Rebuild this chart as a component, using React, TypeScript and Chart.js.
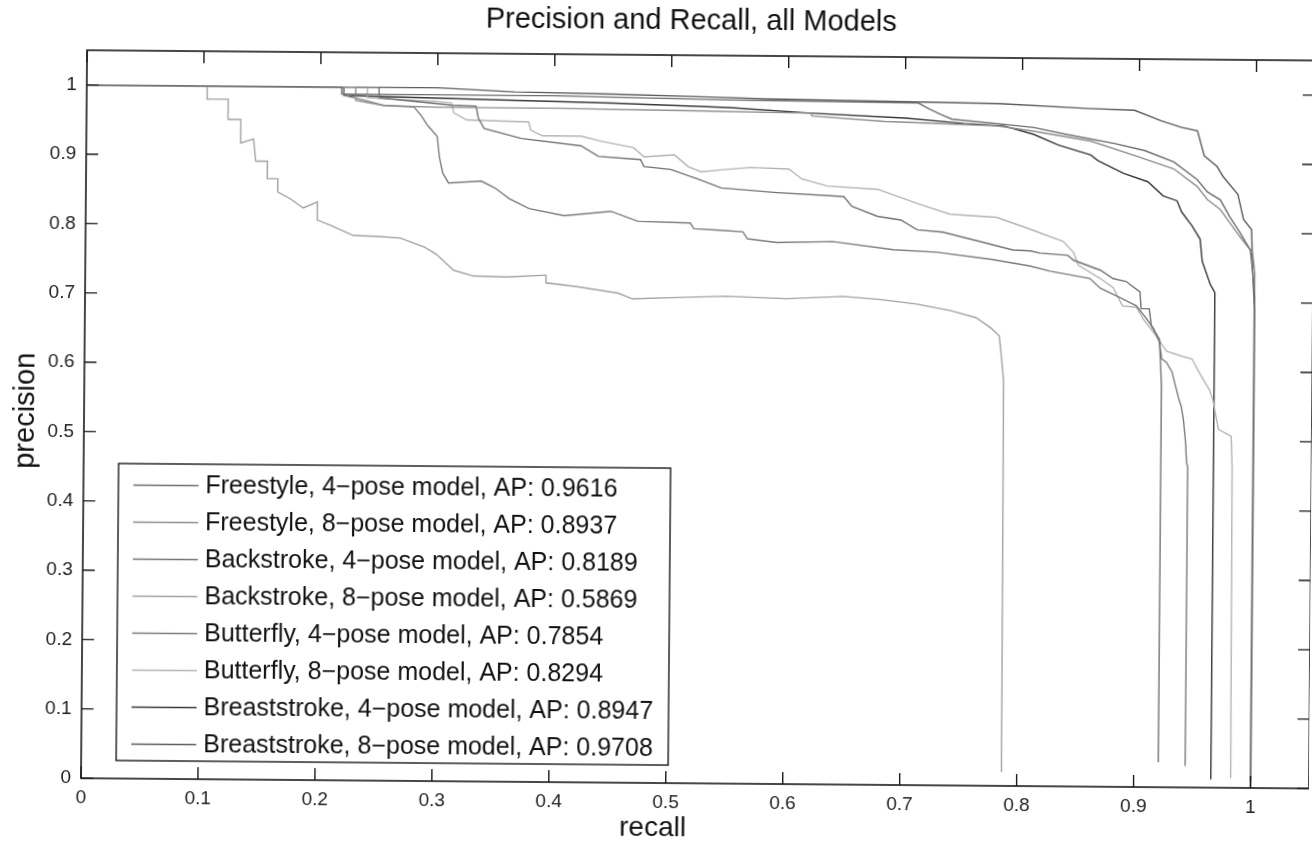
import React, { useEffect, useRef } from "react";
import { Chart, registerables } from "chart.js";

Chart.register(...registerables);

// ---------- text ----------
const TITLE = "Precision and Recall, all Models";
const X_LABEL = "recall";
const Y_LABEL = "precision";
const TICK_VALUES = [0, 0.1, 0.2, 0.3, 0.4, 0.5, 0.6, 0.7, 0.8, 0.9, 1];
const TICK_LABELS = ["0", "0.1", "0.2", "0.3", "0.4", "0.5", "0.6", "0.7", "0.8", "0.9", "1"];

const SERIES_LABELS = [
  "Freestyle, 4\u2212pose model, AP: 0.9616",
  "Freestyle, 8\u2212pose model, AP: 0.8937",
  "Backstroke, 4\u2212pose model, AP: 0.8189",
  "Backstroke, 8\u2212pose model, AP: 0.5869",
  "Butterfly, 4\u2212pose model, AP: 0.7854",
  "Butterfly, 8\u2212pose model, AP: 0.8294",
  "Breaststroke, 4\u2212pose model, AP: 0.8947",
  "Breaststroke, 8\u2212pose model, AP: 0.9708",
];
const SERIES_COLORS = ["#6e6e6e", "#8e8e8e", "#737373", "#a2a2a2", "#7c7c7c", "#b4b4b4", "#383838", "#5c5c5c"];

// ---------- data (recall, precision) ----------
const fs4Recall = [0, 0.218, 0.218, 0.4, 0.55, 0.711, 0.72, 0.73, 0.74, 0.78, 0.81, 0.839, 0.879, 0.905, 0.93, 0.95, 0.959, 0.97, 0.978, 0.987, 0.996, 0.998, 1.0, 1.0];
const fs4Precision = [1, 1, 0.99, 0.99, 0.986, 0.984, 0.976, 0.968, 0.961, 0.955, 0.95, 0.94, 0.928, 0.918, 0.902, 0.877, 0.859, 0.848, 0.824, 0.801, 0.776, 0.748, 0.709, 0.01];

const fs8Recall = [0, 0.23, 0.23, 0.254, 0.3, 0.4, 0.52, 0.62, 0.62, 0.682, 0.779, 0.808, 0.859, 0.896, 0.93, 0.95, 0.959, 0.97, 0.987, 0.998, 1.0, 1.0];
const fs8Precision = [1, 1, 0.981, 0.974, 0.972, 0.972, 0.97, 0.968, 0.964, 0.957, 0.952, 0.945, 0.931, 0.911, 0.892, 0.867, 0.848, 0.834, 0.795, 0.772, 0.743, 0.008];

const bk4Recall = [0, 0.25, 0.25, 0.312, 0.333, 0.335, 0.34, 0.372, 0.423, 0.438, 0.474, 0.477, 0.5, 0.526, 0.543, 0.591, 0.648, 0.655, 0.677, 0.697, 0.711, 0.733, 0.762, 0.793, 0.808, 0.816, 0.84, 0.845, 0.868, 0.879, 0.89, 0.902, 0.903, 0.91, 0.912, 0.919, 0.92, 0.921, 0.921];
const bk4Precision = [1, 1, 0.985, 0.975, 0.974, 0.957, 0.942, 0.928, 0.918, 0.903, 0.899, 0.889, 0.885, 0.87, 0.859, 0.853, 0.848, 0.834, 0.82, 0.815, 0.801, 0.798, 0.786, 0.773, 0.772, 0.769, 0.766, 0.759, 0.745, 0.733, 0.729, 0.714, 0.69, 0.69, 0.665, 0.646, 0.613, 0.58, 0.036];

const bk8Recall = [0, 0.103, 0.103, 0.121, 0.121, 0.132, 0.132, 0.143, 0.145, 0.155, 0.155, 0.164, 0.164, 0.175, 0.186, 0.198, 0.198, 0.21, 0.229, 0.25, 0.269, 0.29, 0.3, 0.315, 0.332, 0.36, 0.394, 0.394, 0.42, 0.456, 0.468, 0.5, 0.548, 0.6, 0.648, 0.68, 0.711, 0.74, 0.762, 0.775, 0.782, 0.784, 0.786, 0.787];
const bk8Precision = [1, 1, 0.981, 0.981, 0.952, 0.952, 0.918, 0.924, 0.892, 0.892, 0.867, 0.867, 0.848, 0.838, 0.825, 0.834, 0.808, 0.8, 0.786, 0.785, 0.783, 0.77, 0.76, 0.737, 0.729, 0.728, 0.731, 0.72, 0.715, 0.706, 0.698, 0.7, 0.703, 0.7, 0.704, 0.7, 0.694, 0.685, 0.675, 0.66, 0.649, 0.618, 0.584, 0.02];

const bf4Recall = [0, 0.22, 0.22, 0.238, 0.254, 0.28, 0.286, 0.292, 0.3, 0.302, 0.305, 0.31, 0.338, 0.35, 0.362, 0.379, 0.409, 0.449, 0.472, 0.517, 0.52, 0.543, 0.562, 0.566, 0.591, 0.639, 0.691, 0.728, 0.776, 0.808, 0.825, 0.859, 0.868, 0.887, 0.899, 0.908, 0.914, 0.919, 0.921, 0.925, 0.93, 0.933, 0.936, 0.938, 0.94, 0.942, 0.943, 0.944, 0.944];
const bf4Precision = [1, 1, 0.988, 0.981, 0.974, 0.972, 0.96, 0.945, 0.93, 0.9, 0.877, 0.863, 0.866, 0.856, 0.841, 0.827, 0.817, 0.824, 0.81, 0.808, 0.8, 0.798, 0.796, 0.786, 0.781, 0.783, 0.772, 0.769, 0.759, 0.75, 0.743, 0.733, 0.719, 0.704, 0.694, 0.675, 0.661, 0.642, 0.618, 0.613, 0.599, 0.579, 0.56, 0.55, 0.531, 0.498, 0.469, 0.462, 0.031];

const bf8Recall = [0, 0.24, 0.24, 0.3, 0.312, 0.314, 0.325, 0.378, 0.38, 0.39, 0.423, 0.44, 0.468, 0.477, 0.503, 0.515, 0.526, 0.543, 0.568, 0.601, 0.612, 0.634, 0.677, 0.711, 0.739, 0.779, 0.808, 0.836, 0.845, 0.849, 0.868, 0.879, 0.887, 0.899, 0.905, 0.916, 0.925, 0.938, 0.947, 0.953, 0.962, 0.965, 0.97, 0.981, 0.982, 0.983];
const bf8Precision = [1, 1, 0.985, 0.98, 0.978, 0.964, 0.954, 0.952, 0.94, 0.932, 0.932, 0.925, 0.916, 0.903, 0.906, 0.889, 0.882, 0.885, 0.889, 0.887, 0.873, 0.863, 0.859, 0.839, 0.824, 0.82, 0.803, 0.786, 0.77, 0.752, 0.733, 0.72, 0.694, 0.692, 0.675, 0.651, 0.629, 0.622, 0.618, 0.599, 0.574, 0.56, 0.517, 0.507, 0.462, 0.014];

const br4Recall = [0, 0.22, 0.22, 0.3, 0.45, 0.55, 0.62, 0.7, 0.75, 0.784, 0.81, 0.831, 0.859, 0.865, 0.887, 0.908, 0.921, 0.933, 0.937, 0.946, 0.953, 0.955, 0.962, 0.966, 0.966];
const br4Precision = [1, 1, 0.988, 0.985, 0.98, 0.975, 0.968, 0.962, 0.955, 0.952, 0.94, 0.925, 0.911, 0.903, 0.885, 0.873, 0.853, 0.846, 0.83, 0.81, 0.791, 0.759, 0.726, 0.714, 0.012];

const br8Recall = [0, 0.3, 0.366, 0.45, 0.534, 0.58, 0.78, 0.856, 0.896, 0.919, 0.936, 0.95, 0.956, 0.967, 0.972, 0.985, 0.99, 0.997, 0.998, 1.0, 1.0];
const br8Precision = [1, 1, 0.995, 0.993, 0.99, 0.988, 0.984, 0.978, 0.976, 0.961, 0.952, 0.947, 0.911, 0.896, 0.882, 0.856, 0.82, 0.805, 0.752, 0.69, 0.0];

const SERIES_RECALL = [fs4Recall, fs8Recall, bk4Recall, bk8Recall, bf4Recall, bf8Recall, br4Recall, br8Recall];
const SERIES_PRECISION = [fs4Precision, fs8Precision, bk4Precision, bk8Precision, bf4Precision, bf8Precision, br4Precision, br8Precision];

const FONT = '"Liberation Sans", Arial, Helvetica, sans-serif';

const matlabPlugin = {
  id: "matlabDecor",
  afterDraw(chart: any) {
    const { ctx, chartArea, scales } = chart;
    const { left, right, top, bottom } = chartArea;
    const x = scales.x;
    const y = scales.y;
    ctx.save();
    // box
    ctx.strokeStyle = "#1a1a1a";
    ctx.lineWidth = 1.6;
    ctx.strokeRect(left, top, right - left, bottom - top);
    // inward ticks on all sides
    const tl = 12;
    ctx.lineWidth = 1.4;
    ctx.beginPath();
    TICK_VALUES.forEach((v) => {
      const px = x.getPixelForValue(v);
      ctx.moveTo(px, bottom);
      ctx.lineTo(px, bottom - tl);
      ctx.moveTo(px, top);
      ctx.lineTo(px, top + tl);
      const py = y.getPixelForValue(v);
      ctx.moveTo(left, py);
      ctx.lineTo(left + tl, py);
      ctx.moveTo(right, py);
      ctx.lineTo(right - tl, py);
    });
    ctx.stroke();

    // legend (SouthWest)
    const lw = 552;
    const lh = 297;
    const lx = left + 35;
    const ly = bottom - 18 - lh;
    ctx.fillStyle = "#ffffff";
    ctx.fillRect(lx, ly, lw, lh);
    ctx.strokeStyle = "#1a1a1a";
    ctx.lineWidth = 1.4;
    ctx.strokeRect(lx, ly, lw, lh);
    ctx.font = `25px ${FONT}`;
    ctx.textBaseline = "middle";
    ctx.textAlign = "left";
    chart.data.datasets.forEach((ds: any, i: number) => {
      const cy = ly + 21.5 + i * 37;
      ctx.strokeStyle = ds.borderColor;
      ctx.lineWidth = 1.4;
      ctx.beginPath();
      ctx.moveTo(lx + 15, cy);
      ctx.lineTo(lx + 80, cy);
      ctx.stroke();
      ctx.fillStyle = "#111";
      ctx.fillText(ds.label, lx + 87, cy + 1);
    });

    // title and axis labels
    ctx.fillStyle = "#111";
    ctx.textAlign = "center";
    ctx.font = `29px ${FONT}`;
    ctx.fillText(TITLE, 688, 21);
    ctx.font = `28px ${FONT}`;
    ctx.fillText(X_LABEL, 656, 828);
    ctx.save();
    ctx.translate(26, 416);
    ctx.rotate(-Math.PI / 2);
    ctx.font = `29px ${FONT}`;
    ctx.fillText(Y_LABEL, 0, 0);
    ctx.restore();
    ctx.restore();
  },
};

export default function App() {
  const canvasRef = useRef<HTMLCanvasElement | null>(null);

  useEffect(() => {
    const canvas = canvasRef.current;
    if (!canvas) return;
    const datasets = SERIES_LABELS.map((label, i) => ({
      label,
      data: SERIES_RECALL[i].map((r, j) => ({ x: r, y: SERIES_PRECISION[i][j] })),
      borderColor: SERIES_COLORS[i],
      backgroundColor: SERIES_COLORS[i],
      borderWidth: 1.4,
      pointRadius: 0,
      tension: 0,
      fill: false,
    }));
    const tickFont = { family: FONT, size: 19 };
    const chart = new Chart(canvas, {
      type: "line",
      data: { datasets },
      plugins: [matlabPlugin],
      options: {
        animation: false,
        responsive: false,
        devicePixelRatio: 1,
        parsing: false as any,
        layout: { padding: { top: 55, left: 0, right: 0, bottom: 0 } },
        plugins: {
          legend: { display: false },
          title: { display: false },
          tooltip: { enabled: false },
        },
        scales: {
          x: {
            type: "linear",
            min: 0,
            max: 1.05,
            afterBuildTicks: (s: any) => {
              s.ticks = TICK_VALUES.map((v) => ({ value: v }));
            },
            afterFit: (s: any) => {
              s.height = 60;
            },
            ticks: {
              callback: (_v: any, i: number) => TICK_LABELS[i],
              font: tickFont,
              color: "#222",
              padding: 8,
              maxRotation: 0,
              autoSkip: false,
            },
            grid: { display: false, drawTicks: false },
            border: { display: false },
          },
          y: {
            type: "linear",
            min: 0,
            max: 1.05,
            afterBuildTicks: (s: any) => {
              s.ticks = TICK_VALUES.map((v) => ({ value: v }));
            },
            afterFit: (s: any) => {
              s.width = 84;
            },
            ticks: {
              callback: (_v: any, i: number) => TICK_LABELS[i],
              font: tickFont,
              color: "#222",
              padding: 10,
              autoSkip: false,
            },
            grid: { display: false, drawTicks: false },
            border: { display: false },
          },
        },
      },
    });
    return () => chart.destroy();
  }, []);

  return (
    <div
      style={{
        position: "fixed",
        left: 0,
        top: 0,
        width: 1312,
        height: 843,
        overflow: "hidden",
        background: "#ffffff",
      }}
    >
      <canvas
        ref={canvasRef}
        width={1312}
        height={843}
        style={{ width: 1312, height: 843, display: "block", transform: "rotate(0.48deg)", transformOrigin: "656px 421px" }}
      />
    </div>
  );
}
